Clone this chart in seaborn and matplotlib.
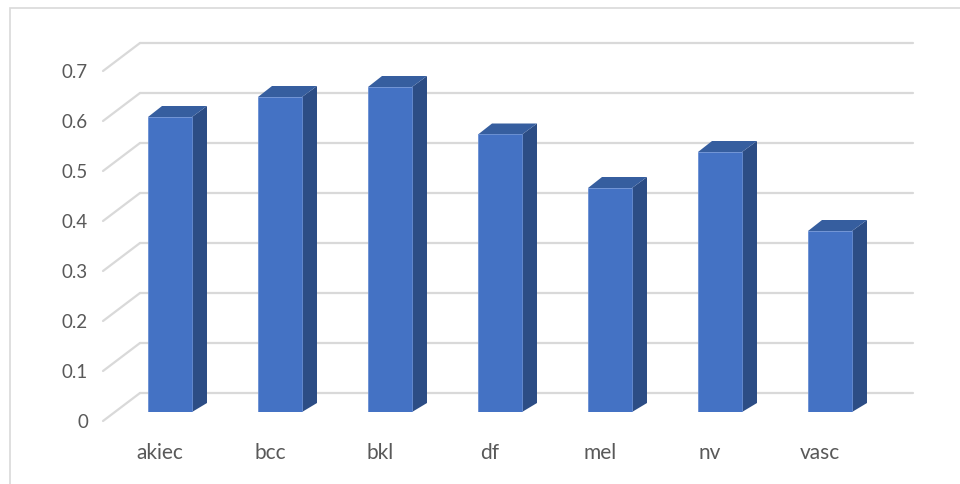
import matplotlib
matplotlib.use("Agg")
import matplotlib.pyplot as plt
import seaborn as sns
import pandas as pd
from matplotlib.patches import Polygon, Rectangle
from matplotlib.lines import Line2D
from matplotlib.transforms import IdentityTransform, ScaledTranslation

# =========================
# Data
# =========================
categories = ["akiec", "bcc", "bkl", "df", "mel", "nv", "vasc"]
values = [0.59, 0.63, 0.65, 0.555, 0.448, 0.52, 0.362]
yticks = [0, 0.1, 0.2, 0.3, 0.4, 0.5, 0.6, 0.7]
yticklabels = ["0", "0.1", "0.2", "0.3", "0.4", "0.5", "0.6", "0.7"]

df = pd.DataFrame({"cls": categories, "val": values})

# =========================
# Style
# =========================
sns.set_style("white")
plt.rcParams["font.family"] = ["Lato", "DejaVu Sans"]
text_color = "#595959"
front_c = "#4472c4"
side_c = "#2c4d85"
top_c = "#365e9f"
grid_c = "#d9d9d9"

W, H = 960, 484
fig = plt.figure(figsize=(W / 100, H / 100), dpi=100)
# axes box: bar front plane, y=0 at pixel row 412, 500 px per unit
ax = fig.add_axes([115 / W, (H - 412) / H, 770 / W, 375 / H])

sns.barplot(data=df, x="cls", y="val", color=front_c, width=0.4,
            saturation=1, ax=ax, zorder=3, edgecolor="#6a8fd3",
            linewidth=0.6)
ax.set_xlim(-0.5, 6.5)
ax.set_ylim(0, 0.75)
for s in ax.spines.values():
    s.set_visible(False)
ax.set_xlabel("")
ax.set_ylabel("")


def disp(x, y):
    # data -> display pixels
    return ax.transData.transform((x, y))


# depth of the 3D box, in pixels
dx, dy_top, dy_bot = 15, 11, 9

# =========================
# Gridlines (back wall + side wall)
# =========================
x_left = disp(-0.5, 0)[0]
for v in yticks:
    _, yv = disp(0, v)
    back_y = yv + 19
    front_y = yv - 9
    ax.add_line(Line2D([x_left + 25, x_left + 798], [back_y, back_y],
                       transform=IdentityTransform(), color=grid_c,
                       lw=1.6, zorder=1, clip_on=False))
    ax.add_line(Line2D([x_left - 12, x_left + 25], [front_y, back_y],
                       transform=IdentityTransform(), color=grid_c,
                       lw=1.6, zorder=1, clip_on=False))

# =========================
# 3D sides and tops of bars
# =========================
for p in ax.patches[:len(values)]:
    x0, y0 = p.get_x(), p.get_y()
    x1, y1 = x0 + p.get_width(), y0 + p.get_height()
    bl = disp(x0, y0)
    tr = disp(x1, y1)
    side = [(tr[0], bl[1]), (tr[0], tr[1]),
            (tr[0] + dx, tr[1] + dy_top), (tr[0] + dx, bl[1] + dy_bot)]
    top = [(bl[0], tr[1]), (tr[0], tr[1]),
           (tr[0] + dx, tr[1] + dy_top), (bl[0] + dx - 1, tr[1] + dy_top)]
    ax.add_patch(Polygon(side, closed=True, transform=IdentityTransform(),
                         facecolor=side_c, edgecolor="none", zorder=2,
                         clip_on=False))
    ax.add_patch(Polygon(top, closed=True, transform=IdentityTransform(),
                         facecolor=top_c, edgecolor="none", zorder=2,
                         clip_on=False))

# =========================
# Ticks
# =========================
ax.set_yticks(yticks)
ax.set_yticklabels(yticklabels)
ax.tick_params(axis="y", length=0, pad=19.5, labelsize=13.5,
               labelcolor=text_color)
ax.tick_params(axis="x", length=0, pad=22, labelsize=15,
               labelcolor=text_color)
for lab in ax.get_yticklabels():
    lab.set_transform(lab.get_transform()
                      + ScaledTranslation(0, -9 / 100, fig.dpi_scale_trans))
for lab in ax.get_xticklabels():
    lab.set_transform(lab.get_transform()
                      + ScaledTranslation(-10 / 100, 0, fig.dpi_scale_trans))

# chart border
fig.add_artist(Rectangle((10 / W, -0.1), 1.2, (H - 8) / H + 0.1,
                         transform=fig.transFigure, fill=False,
                         edgecolor=grid_c, lw=1.2))

fig.savefig("out.png", dpi=100)
